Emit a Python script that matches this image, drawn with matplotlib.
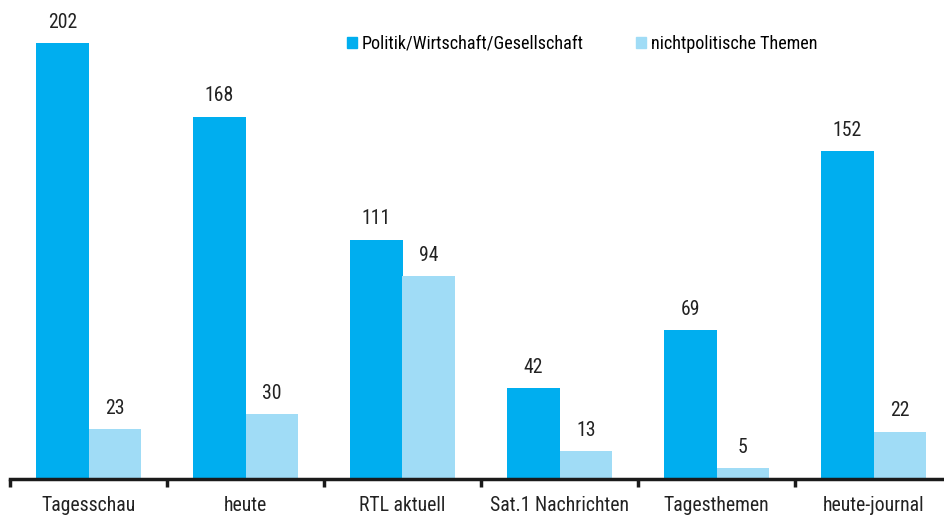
import matplotlib
matplotlib.use("Agg")
import numpy as np
import matplotlib.pyplot as plt
from matplotlib.patches import Patch

# data
sendungen = ["Tagesschau", "heute", "RTL aktuell", "Sat.1 Nachrichten",
             "Tagesthemen", "heute-journal"]
politik = [202, 168, 111, 42, 69, 152]
nichtpolitisch = [23, 30, 94, 13, 5, 22]
labels = ["Politik/Wirtschaft/Gesellschaft", "nichtpolitische Themen"]

dark = "#00AEEF"
light = "#A0DCF6"
plt.rcParams["font.family"] = ["Roboto Condensed", "Liberation Sans Narrow",
                               "Liberation Sans", "DejaVu Sans"]
fs = 14.2
fs_leg = 13.1

W, H = 944, 519
fig = plt.figure(figsize=(W / 100, H / 100), dpi=100)
# axes spans 6 groups of 157 px starting at x=10, baseline at y=479
ax = fig.add_axes([10 / W, 40 / H, 6 * 157 / W, 479 / H])

x = np.arange(len(sendungen))
w = 0.334
b1 = ax.bar(x - w / 2, politik, w, color=dark, label=labels[0])
b2 = ax.bar(x + w / 2, nichtpolitisch, w, color=light, label=labels[1])

for bars, vals in ((b1, politik), (b2, nichtpolitisch)):
    for r, v in zip(bars, vals):
        ax.annotate(str(v), (r.get_x() + r.get_width() / 2, v),
                    xytext=(0, 11), textcoords="offset points",
                    ha="center", va="baseline", fontsize=fs, color="#222222")

ax.set_xlim(-0.5, len(sendungen) - 0.5)
ax.set_ylim(0, 222)
for s in ("top", "right", "left"):
    ax.spines[s].set_visible(False)
ax.spines["bottom"].set_linewidth(2.5)
ax.spines["bottom"].set_color("#1a1a1a")
ax.set_yticks([])
ax.set_xticks(x)
ax.set_xticklabels(sendungen, fontsize=fs, color="#222222")
ax.tick_params(axis="x", which="major", length=0, pad=12)
ax.set_xticks(np.arange(-0.5, len(sendungen)), minor=True)
ax.tick_params(axis="x", which="minor", length=6, width=2.5, color="#1a1a1a")

handles = [Patch(color=dark), Patch(color=light)]
ax.legend(handles, labels, ncol=2, frameon=False, fontsize=fs_leg,
          loc="center left", bbox_to_anchor=(347 / W, 1 - 44 / H),
          bbox_transform=fig.transFigure,
          handlelength=0.57, handleheight=0.57, handletextpad=0.25,
          columnspacing=2.85, borderaxespad=0, borderpad=0)

fig.savefig("out.png", dpi=100)
